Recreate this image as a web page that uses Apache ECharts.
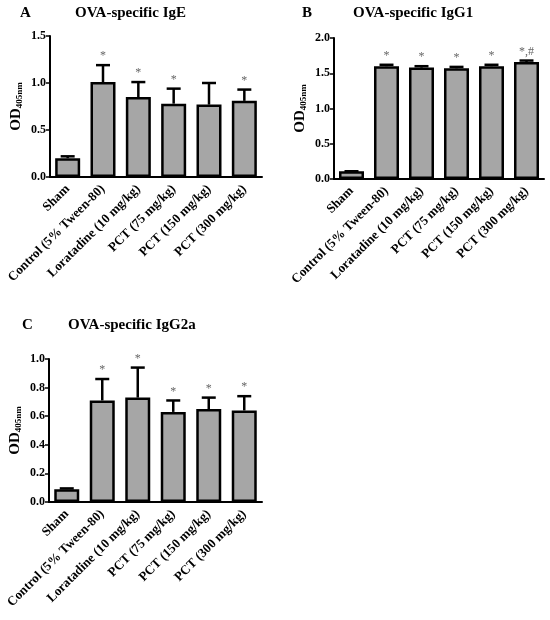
<!DOCTYPE html>
<html>
<head>
<meta charset="utf-8">
<script src="https://cdn.jsdelivr.net/npm/echarts@6/dist/echarts.min.js"></script>
<style>
  html, body { margin: 0; padding: 0; background: #fff; }
  #main { width: 550px; height: 620px; }
</style>
</head>
<body>
<div id="main"></div>
<script>
var categories = ['Sham', 'Control (5% Tween-80)', 'Loratadine (10 mg/kg)', 'PCT (75 mg/kg)', 'PCT (150 mg/kg)', 'PCT (300 mg/kg)'];

// panel A - IgE
var igeMean = [0.20, 1.01, 0.85, 0.78, 0.77, 0.81];
var igeUpper = [0.22, 1.19, 1.01, 0.94, 1.00, 0.93];
var igeMarks = ['', '*', '*', '*', '', '*'];

// panel B - IgG1
var igg1Mean = [0.11, 1.60, 1.58, 1.57, 1.60, 1.66];
var igg1Upper = [0.11, 1.62, 1.60, 1.59, 1.62, 1.68];
var igg1Marks = ['', '*', '*', '*', '*', '*,#'];

// panel C - IgG2a
var igg2aMean = [0.09, 0.71, 0.73, 0.63, 0.65, 0.64];
var igg2aUpper = [0.095, 0.86, 0.94, 0.71, 0.73, 0.74];
var igg2aMarks = ['', '*', '*', '*', '*', '*'];

var serif = '"Liberation Serif", "Times New Roman", serif';
var myChart = echarts.init(document.getElementById('main'));

var panels = [
  {letter: 'A', title: 'OVA-specific IgE', mean: igeMean, upper: igeUpper, marks: igeMarks,
   max: 1.5, interval: 0.5, letterPos: [20, 6], titlePos: [75, 6],
   grid: {left: 50, top: 36, width: 212, height: 141}},
  {letter: 'B', title: 'OVA-specific IgG1', mean: igg1Mean, upper: igg1Upper, marks: igg1Marks,
   max: 2.0, interval: 0.5, letterPos: [302, 6], titlePos: [353, 6],
   grid: {left: 334, top: 38, width: 210, height: 141}},
  {letter: 'C', title: 'OVA-specific IgG2a', mean: igg2aMean, upper: igg2aUpper, marks: igg2aMarks,
   max: 1.0, interval: 0.2, letterPos: [22, 318], titlePos: [68, 318],
   grid: {left: 49, top: 359, width: 213, height: 143}}
];

var grids = [], xAxes = [], yAxes = [], series = [], titles = [];

panels.forEach(function (p, i) {
  grids.push(p.grid);
  titles.push({
    text: p.letter, left: p.letterPos[0], top: p.letterPos[1], padding: 0,
    textStyle: {fontFamily: serif, fontWeight: 'bold', fontSize: 15, color: '#000'}
  });
  titles.push({
    text: p.title, left: p.titlePos[0], top: p.titlePos[1], padding: 0,
    textStyle: {fontFamily: serif, fontWeight: 'bold', fontSize: 15, color: '#000'}
  });
  xAxes.push({
    type: 'category', gridIndex: i, data: categories,
    axisLine: {lineStyle: {color: '#000', width: 2}},
    axisTick: {alignWithLabel: true, length: 4, lineStyle: {width: 1.5}},
    axisLabel: {rotate: 45, interval: 0, margin: 10, color: '#000',
      fontFamily: serif, fontWeight: 'bold', fontSize: 13}
  });
  yAxes.push({
    type: 'value', gridIndex: i, min: 0, max: p.max, interval: p.interval,
    name: '{a|OD}{b|405nm}', nameLocation: 'middle', nameRotate: 90, nameGap: 26,
    nameTextStyle: {
      rich: {
        a: {fontFamily: serif, fontWeight: 'bold', fontSize: 15, color: '#000'},
        b: {fontFamily: serif, fontWeight: 'bold', fontSize: 9, color: '#000', verticalAlign: 'bottom', padding: [6, 0, 0, 0]}
      }
    },
    splitLine: {show: false},
    axisLine: {show: true, lineStyle: {color: '#000', width: 2}},
    axisTick: {show: true, length: 4, lineStyle: {width: 1.5}},
    axisLabel: {color: '#000', fontFamily: serif, fontWeight: 'bold', fontSize: 12, margin: 4,
      formatter: function (v) { return v.toFixed(1); }}
  });
  series.push({
    type: 'bar', xAxisIndex: i, yAxisIndex: i, data: p.mean, barWidth: 25,
    itemStyle: {color: '#a6a6a6', borderColor: '#000', borderWidth: 2.5},
    z: 2
  });
  var errData = p.mean.map(function (m, k) { return [k, m, p.upper[k]]; });
  series.push({
    type: 'custom', xAxisIndex: i, yAxisIndex: i, data: errData, z: 3,
    renderItem: function (params, api) {
      var base = api.coord([api.value(0), api.value(1)]);
      var top = api.coord([api.value(0), api.value(2)]);
      var half = 7;
      var mark = p.marks[params.dataIndex];
      var children = [
        {type: 'line', shape: {x1: base[0], y1: base[1], x2: top[0], y2: top[1]},
         style: {stroke: '#000', lineWidth: 2.5}},
        {type: 'line', shape: {x1: top[0] - half, y1: top[1], x2: top[0] + half, y2: top[1]},
         style: {stroke: '#000', lineWidth: 2.5}}
      ];
      if (mark) {
        children.push({type: 'text', x: top[0], y: top[1] - 3,
          style: {text: mark, fill: '#666', fontFamily: serif, fontSize: 12,
            align: 'center', verticalAlign: 'bottom'}});
      }
      return {type: 'group', children: children};
    }
  });
});

var option = {
  backgroundColor: '#fff',
  animation: false,
  title: titles,
  grid: grids,
  xAxis: xAxes,
  yAxis: yAxes,
  series: series
};
myChart.setOption(option);
</script>
</body>
</html>
